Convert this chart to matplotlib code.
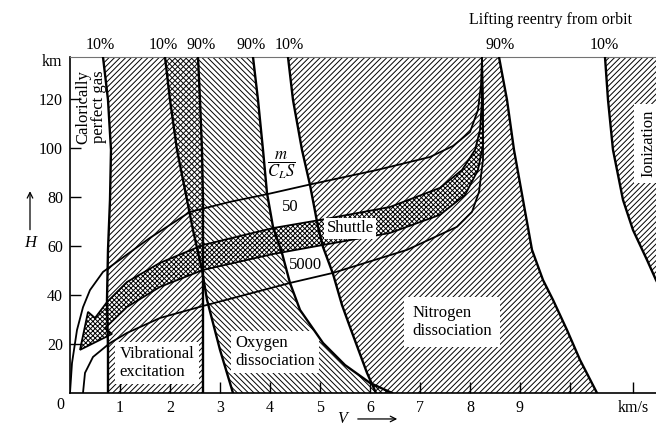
import matplotlib
matplotlib.use("Agg")
import matplotlib.pyplot as plt

plt.rcParams['font.family'] = ['Liberation Serif', 'DejaVu Serif']
plt.rcParams['mathtext.fontset'] = 'stix'
plt.rcParams['hatch.linewidth'] = 0.7
plt.rcParams['hatch.color'] = 'black'

# boundary curves: V in km/s, H in km (top -> ground)
vib10_V = [0.66, 0.76, 0.82, 0.80, 0.76, 0.74, 0.76, 0.76]
vib10_H = [137.1, 119.6, 99.2, 78.8, 58.4, 38.0, 17.6, 0.0]
vib90_V = [2.56, 2.60, 2.64, 2.66, 2.66, 2.66, 2.66]
vib90_H = [137.1, 119.6, 99.2, 78.8, 58.4, 38.0, 0.0]

oxy10_V = [1.90, 2.00, 2.14, 2.34, 2.46, 2.64, 2.74, 3.00, 3.26]
oxy10_H = [137.1, 119.6, 99.2, 78.8, 66.5, 50.2, 38.0, 17.6, 0.0]
oxy90_V = [3.66, 3.76, 3.86, 3.94, 4.06, 4.24, 4.40, 4.60, 5.06, 5.50, 6.00, 6.44]
oxy90_H = [137.1, 119.6, 99.2, 81.6, 67.8, 57.1, 44.9, 33.9, 20.4, 11.4, 4.1, 0.0]

nit10_V = [4.36, 4.46, 4.64, 4.80, 4.96, 5.06, 5.26, 5.44, 5.60, 5.94, 6.12]
nit10_H = [137.1, 119.6, 99.2, 84.9, 67.8, 59.6, 48.6, 35.9, 26.9, 8.2, 0.0]
nit90_V = [8.58, 8.74, 8.88, 9.06, 9.24, 9.46, 9.66, 9.94, 10.20, 10.54]
nit90_H = [137.1, 119.6, 99.2, 78.8, 58.4, 46.1, 38.0, 25.7, 13.5, 0.0]

ion10_V = [10.70, 10.76, 10.86, 11.06, 11.26, 11.54, 11.72, 12.04]
ion10_H = [137.1, 119.6, 99.2, 78.8, 66.5, 54.3, 46.1, 33.9]

# lifting reentry corridor, m/(CL S) = 50 and 5000 (ground -> top)
m50_V = [0.00, 0.04, 0.14, 0.26, 0.40, 0.66, 1.60, 2.40, 3.20, 3.96, 4.76, 6.14, 7.20, 7.66, 8.00, 8.16, 8.22, 8.24]
m50_H = [0.0, 12.2, 25.7, 35.0, 42.0, 49.4, 63.3, 73.9, 78.0, 81.2, 84.9, 91.0, 96.3, 100.8, 106.5, 115.5, 125.7, 137.1]
m5000_V = [0.26, 0.30, 0.46, 0.80, 1.14, 1.80, 2.66, 4.40, 5.26, 6.74, 7.74, 8.04, 8.18, 8.26, 8.26, 8.24]
m5000_H = [0.0, 8.2, 14.7, 20.4, 24.5, 30.6, 35.5, 44.9, 49.0, 58.4, 67.8, 73.9, 82.0, 95.1, 119.6, 137.1]

# shuttle band edges and arrow head
shut_up_V = [0.50, 0.74, 1.14, 1.80, 2.66, 4.06, 5.00, 6.40, 7.40, 7.84, 8.10, 8.20, 8.24, 8.24]
shut_up_H = [30.6, 37.1, 45.3, 53.1, 60.4, 67.3, 70.6, 75.9, 83.7, 91.0, 99.2, 107.3, 119.6, 137.1]
shut_lo_V = [0.70, 1.14, 1.80, 2.66, 4.06, 5.06, 6.40, 7.40, 7.90, 8.16, 8.26, 8.25, 8.24]
shut_lo_H = [26.5, 35.1, 43.3, 50.2, 56.7, 60.4, 65.3, 72.7, 80.8, 91.0, 101.2, 119.6, 137.1]
arrow_V = [0.36, 0.20, 0.84]
arrow_H = [33.1, 17.6, 24.1]

top_labels = ["10%", "10%", "90%", "90%", "10%", "90%", "10%"]
top_label_V = [0.60, 1.86, 2.62, 3.62, 4.38, 8.60, 10.68]

xticks = [1, 2, 3, 4, 5, 6, 7, 8, 9, 10, 11.26]
xticklabels = ['1', '2', '3', '4', '5', '6', '7', '8', '9', '', 'km/s']
yticks = [20, 40, 60, 80, 100, 120]

fig = plt.figure(figsize=(6.56, 4.28), dpi=100)
ax = fig.add_axes([0.1067, 0.0818, 0.8933, 0.785])
ax.set_xlim(0, 11.72)
ax.set_ylim(0, 137.1)


def region(Va, Ha, Vb, Hb, hatch):
    xs = list(Va) + list(Vb)[::-1]
    ys = list(Ha) + list(Hb)[::-1]
    ax.fill(xs, ys, facecolor='none', edgecolor='black', linewidth=0,
            hatch=hatch, zorder=1)


region(vib10_V, vib10_H, vib90_V, vib90_H, '/' * 6)
region(oxy10_V, oxy10_H, oxy90_V, oxy90_H, '\\' * 6)
region(nit10_V, nit10_H, nit90_V, nit90_H, '/' * 6)
ax.fill(ion10_V + [12.5, 12.5], ion10_H + [ion10_H[-1], ion10_H[0]],
        facecolor='none', edgecolor='black', linewidth=0, hatch='/' * 6, zorder=1)

# shuttle band
sx = shut_up_V[::-1] + arrow_V + shut_lo_V
sy = shut_up_H[::-1] + arrow_H + shut_lo_H
ax.fill(sx, sy, facecolor='white', edgecolor='black', linewidth=1.3,
        hatch='x' * 7, zorder=3, joinstyle='miter')

for V, H in [(vib10_V, vib10_H), (vib90_V, vib90_H), (oxy10_V, oxy10_H),
             (oxy90_V, oxy90_H), (nit10_V, nit10_H), (nit90_V, nit90_H),
             (ion10_V, ion10_H)]:
    ax.plot(V, H, color='black', lw=1.7, zorder=6, solid_joinstyle='round')
for V, H in [(m50_V, m50_H), (m5000_V, m5000_H)]:
    ax.plot(V, H, color='black', lw=1.3, zorder=6, solid_joinstyle='round')

box = dict(boxstyle='square,pad=0.25', fc='white', ec='none')
ax.text(1.74, 12.2, "Vibrational\nexcitation", fontsize=12, ha='center', va='center',
        multialignment='left', linespacing=1.1, bbox=box, zorder=5)
ax.text(4.10, 16.7, "Oxygen\ndissociation", fontsize=12, ha='center', va='center',
        multialignment='left', linespacing=1.1, bbox=box, zorder=5)
ax.text(7.64, 29.0, "Nitrogen\ndissociation", fontsize=12, ha='center', va='center',
        multialignment='left', linespacing=1.1,
        bbox=dict(boxstyle='square,pad=0.5', fc='white', ec='none'), zorder=5)
ax.text(11.56, 102, "Ionization", fontsize=12, rotation=90, ha='center', va='center',
        bbox=dict(boxstyle='square,pad=0.35', fc='white', ec='none'), zorder=5)
ax.text(0.26, 116.7, "Calorically", fontsize=12, rotation=90, ha='center', va='center')
ax.text(0.58, 117.0, "perfect gas", fontsize=12, rotation=90, ha='center', va='center')
ax.text(4.22, 93.1, r"$\dfrac{m}{C_L S}$", fontsize=12, ha='center', va='center', zorder=5)
ax.text(4.40, 75.9, "50", fontsize=12, ha='center', va='center', bbox=box, zorder=5)
ax.text(4.72, 52.2, "5000", fontsize=12, ha='center', va='center', bbox=box, zorder=5)
ax.text(5.60, 67.3, "Shuttle", fontsize=12, ha='center', va='center',
        bbox=dict(boxstyle='square,pad=0.15', fc='white', ec='none'), zorder=7)

for lab, v in zip(top_labels, top_label_V):
    ax.text(v, 142, lab, fontsize=11.5, ha='center', va='center', clip_on=False)
ax.text(9.62, 152, "Lifting reentry from orbit", fontsize=11.5, ha='center',
        va='center', clip_on=False)

ax.set_xticks(xticks)
ax.set_xticklabels(xticklabels)
ax.set_yticks(yticks)
ax.tick_params(direction='in', length=8, width=1.0, labelsize=11.5, pad=5)
ax.text(-0.2, -5.0, "0", fontsize=11.5, ha='center', va='center', clip_on=False)
ax.text(-0.15, 135.0, "km", fontsize=11.5, ha='right', va='center', clip_on=False)

ax.text(-0.80, 61.2, "H", fontsize=12, style='italic', ha='center', va='center',
        clip_on=False)
ax.annotate("", xy=(-0.80, 83.5), xytext=(-0.80, 65.5), annotation_clip=False,
            arrowprops=dict(arrowstyle='->', lw=0.9, color='black'))
ax.text(5.44, -10.6, "V", fontsize=11.5, style='italic', ha='center', va='center',
        clip_on=False)
ax.annotate("", xy=(6.60, -10.6), xytext=(5.70, -10.6), annotation_clip=False,
            arrowprops=dict(arrowstyle='->', lw=0.9, color='black'))

ax.spines['right'].set_visible(False)
ax.spines['top'].set_color('0.45')
ax.spines['top'].set_linewidth(0.8)
ax.spines['left'].set_linewidth(1.2)
ax.spines['bottom'].set_linewidth(1.2)

fig.savefig('out.png', dpi=100)
